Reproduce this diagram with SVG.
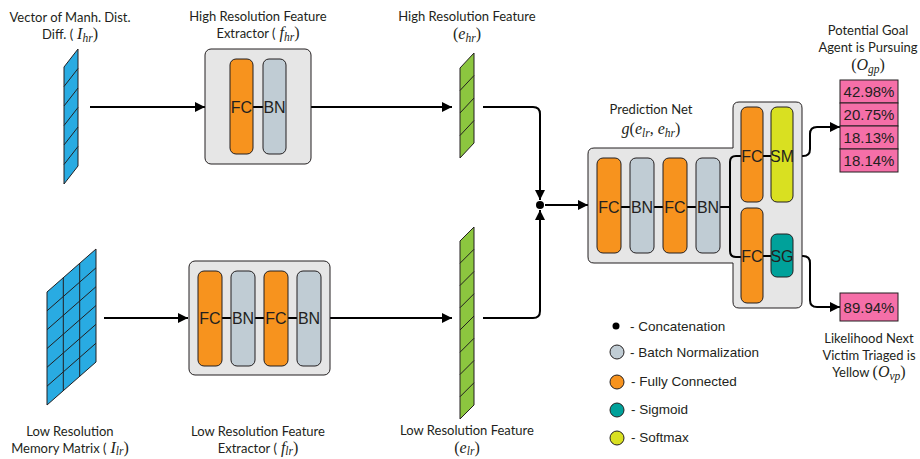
<svg xmlns="http://www.w3.org/2000/svg" width="920" height="459" viewBox="0 0 920 459">
<defs>
<marker id="arr" markerUnits="userSpaceOnUse" markerWidth="10" markerHeight="10" refX="10" refY="5" orient="auto">
<path d="M0,0 L10,5 L0,10 z" fill="#000"/>
</marker>
<style>
.lbl{font-family:Lato,"Open Sans",sans-serif;font-size:13px;fill:#231f20;text-anchor:middle}
.m{font-family:"Liberation Serif",serif;font-style:italic;font-size:16px}
.s{font-family:"Liberation Serif",serif;font-style:italic;font-size:11.5px}
.r{font-family:"Liberation Serif",serif;font-size:16px}
.box{fill:#e6e6e6;stroke:#231f20;stroke-width:1}
.fc{fill:#f7931e;stroke:#231f20;stroke-width:1}
.bn{fill:#c0ccd4;stroke:#231f20;stroke-width:1}
.sm{fill:#d9e021;stroke:#231f20;stroke-width:1}
.sg{fill:#00a19a;stroke:#231f20;stroke-width:1}
.bt{font-family:"Liberation Sans",Arial,sans-serif;font-size:16px;fill:#231f20;text-anchor:middle;dominant-baseline:central}
.blue{fill:#29abe2;stroke:#231f20;stroke-width:1}
.green{fill:#8cc63f;stroke:#231f20;stroke-width:1}
.h{stroke:#231f20;stroke-width:1;fill:none}
.c{stroke:#000;stroke-width:2;fill:none}
.a{stroke:#000;stroke-width:2;fill:none;marker-end:url(#arr)}
.pk{fill:#f56fa8;stroke:#231f20;stroke-width:1}
.pt{font-family:"Liberation Sans",Arial,sans-serif;font-size:15px;fill:#231f20;text-anchor:middle;dominant-baseline:central}
.lg{font-family:"Liberation Sans",Arial,sans-serif;font-size:13.5px;fill:#231f20;dominant-baseline:central}
</style>
</defs>
<rect width="920" height="459" fill="#fff"/>

<!-- Connectors -->
<g id="connectors">
<path class="a" d="M90,107 H205"/>
<path class="c" d="M311,107 H380"/>
<path class="a" d="M380,107 H452"/>
<path class="a" d="M104,318 H188"/>
<path class="a" d="M330,318 H452"/>
<path class="a" d="M483,107 H533 Q540,107 540,114 V200"/>
<path class="a" d="M483,318 H533 Q540,318 540,311 V210"/>
<path class="a" d="M545,205 H588"/>
<path class="a" d="M793,156 H803 Q810,156 810,149 V134 Q810,127 817,127 H840"/>
<path class="a" d="M793,256 H803 Q810,256 810,263 V300 Q810,307 817,307 H840"/>
<circle cx="540" cy="205" r="4" fill="#000"/>
</g>

<!-- Input high res vector -->
<g id="input-hr">
<polygon class="blue" points="64,67 78,49 78,166 64,184"/>
<path class="h" d="M64,86.5 L78,68.5 M64,106 L78,88 M64,125.5 L78,107.5 M64,145 L78,127 M64,164.5 L78,146.5"/>
<text class="lbl" x="70" y="22">Vector of Manh. Dist.</text>
<text class="lbl" x="70" y="39">Diff. (<tspan class="m"> I</tspan><tspan class="s" dy="3">hr</tspan><tspan class="r" dy="-3">)</tspan></text>
</g>

<!-- Input low res matrix -->
<g id="input-lr">
<polygon class="blue" points="47,292 96,249 96,362 47,405"/>
<path class="h" d="M47,310.8 L96,267.8 M47,329.7 L96,286.7 M47,348.5 L96,305.5 M47,367.3 L96,324.3 M47,386.2 L96,343.2 M63.3,277.7 V390.7 M79.7,263.3 V376.3"/>
<text class="lbl" x="70" y="436">Low Resolution</text>
<text class="lbl" x="70" y="453">Memory Matrix (<tspan class="m"> I</tspan><tspan class="s" dy="2">lr</tspan><tspan class="r" dy="-2">)</tspan></text>
</g>

<!-- High res feature extractor -->
<g id="extractor-hr">
<rect class="box" x="205" y="49" width="106" height="115" rx="6"/>
<path class="c" d="M253,107 H263" stroke-width="1.5"/>
<rect class="fc" x="230" y="59" width="23" height="95" rx="6"/>
<rect class="bn" x="263" y="59" width="23" height="95" rx="6"/>
<text class="bt" x="241.5" y="107">FC</text>
<text class="bt" x="274.5" y="107">BN</text>
<text class="lbl" x="258" y="21">High Resolution Feature</text>
<text class="lbl" x="258" y="38">Extractor (<tspan class="m"> f</tspan><tspan class="s" dy="3">hr</tspan><tspan class="r" dy="-3">)</tspan></text>
</g>

<!-- Low res feature extractor -->
<g id="extractor-lr">
<rect class="box" x="189" y="261" width="141" height="114" rx="6"/>
<path class="c" d="M222,318 H231 M255,318 H264 M288,318 H297" stroke-width="1.5"/>
<rect class="fc" x="198" y="271" width="24" height="95" rx="6"/>
<rect class="bn" x="231" y="271" width="24" height="95" rx="6"/>
<rect class="fc" x="264" y="271" width="24" height="95" rx="6"/>
<rect class="bn" x="297" y="271" width="24" height="95" rx="6"/>
<text class="bt" x="210" y="318">FC</text>
<text class="bt" x="243" y="318">BN</text>
<text class="bt" x="276" y="318">FC</text>
<text class="bt" x="309" y="318">BN</text>
<text class="lbl" x="258" y="436">Low Resolution Feature</text>
<text class="lbl" x="258" y="453">Extractor (<tspan class="m"> f</tspan><tspan class="s" dy="2">lr</tspan><tspan class="r" dy="-2">)</tspan></text>
</g>

<!-- High res feature -->
<g id="feature-hr">
<polygon class="green" points="460,68 474,53 474,143 460,158"/>
<path class="h" d="M460,90.5 L474,75.5 M460,113 L474,98 M460,135.5 L474,120.5"/>
<text class="lbl" x="467" y="21">High Resolution Feature</text>
<text class="lbl" x="467" y="39"><tspan class="r">(</tspan><tspan class="m">e</tspan><tspan class="s" dy="3">hr</tspan><tspan class="r" dy="-3">)</tspan></text>
</g>

<!-- Low res feature -->
<g id="feature-lr">
<polygon class="green" points="460,241 474,227 474,405 460,419"/>
<path class="h" d="M460,263.25 L474,249.25 M460,285.5 L474,271.5 M460,307.75 L474,293.75 M460,330 L474,316 M460,352.25 L474,338.25 M460,374.5 L474,360.5 M460,396.75 L474,382.75"/>
<text class="lbl" x="467" y="435">Low Resolution Feature</text>
<text class="lbl" x="467" y="453"><tspan class="r">(</tspan><tspan class="m">e</tspan><tspan class="s" dy="2">lr</tspan><tspan class="r" dy="-2">)</tspan></text>
</g>

<!-- Prediction net -->
<g id="prediction-net">
<path class="box" d="M594,148 H733 V108 Q733,102 739,102 H796 Q802,102 802,108 V302 Q802,308 796,308 H739 Q733,308 733,302 V263 H594 Q588,263 588,257 V154 Q588,148 594,148 Z"/>
<path class="c" stroke-width="1.5" d="M621,207 H630 M654,207 H663 M687,207 H696 M720,207 H730 M741,156 H736 Q730,156 730,162 V251 Q730,257 736,257 H741 M763,156 H771 M763,256 H771"/>
<rect class="fc" x="597" y="158" width="24" height="95" rx="6"/>
<rect class="bn" x="630" y="158" width="24" height="95" rx="6"/>
<rect class="fc" x="663" y="158" width="24" height="95" rx="6"/>
<rect class="bn" x="696" y="158" width="24" height="95" rx="6"/>
<rect class="fc" x="741" y="107" width="22" height="95" rx="6"/>
<rect class="sm" x="771" y="107" width="22" height="95" rx="6"/>
<rect class="fc" x="741" y="208" width="22" height="95" rx="6"/>
<rect class="sg" x="771" y="234" width="22" height="43" rx="6"/>
<text class="bt" x="609" y="207">FC</text>
<text class="bt" x="642" y="207">BN</text>
<text class="bt" x="675" y="207">FC</text>
<text class="bt" x="708" y="207">BN</text>
<text class="bt" x="752" y="156">FC</text>
<text class="bt" x="782" y="156">SM</text>
<text class="bt" x="752" y="256">FC</text>
<text class="bt" x="782" y="256">SG</text>
<text class="lbl" x="651" y="114">Prediction Net</text>
<text class="lbl" x="651" y="134"><tspan class="m">g</tspan><tspan class="r">(</tspan><tspan class="m">e</tspan><tspan class="s" dy="3">lr</tspan><tspan class="r" dy="-3">, </tspan><tspan class="m">e</tspan><tspan class="s" dy="3">hr</tspan><tspan class="r" dy="-3">)</tspan></text>
</g>

<!-- Output goal -->
<g id="output-goal">
<rect class="pk" x="840" y="80" width="58" height="23"/>
<rect class="pk" x="840" y="103" width="58" height="23"/>
<rect class="pk" x="840" y="126" width="58" height="23"/>
<rect class="pk" x="840" y="149" width="58" height="23"/>
<text class="pt" x="869" y="91.5">42.98%</text>
<text class="pt" x="869" y="114.5">20.75%</text>
<text class="pt" x="869" y="137.5">18.13%</text>
<text class="pt" x="869" y="160.5">18.14%</text>
<text class="lbl" x="868" y="35">Potential Goal</text>
<text class="lbl" x="868" y="52">Agent is Pursuing</text>
<text class="lbl" x="868" y="70"><tspan class="r">(</tspan><tspan class="m">O</tspan><tspan class="s" dy="3">gp</tspan><tspan class="r" dy="-3">)</tspan></text>
</g>

<!-- Output victim -->
<g id="output-victim">
<rect class="pk" x="840" y="293" width="58" height="28"/>
<text class="pt" x="869" y="307">89.94%</text>
<text class="lbl" x="869" y="343">Likelihood Next</text>
<text class="lbl" x="869" y="360">Victim Triaged is</text>
<text class="lbl" x="869" y="377">Yellow <tspan class="r">(</tspan><tspan class="m">O</tspan><tspan class="s" dy="3">vp</tspan><tspan class="r" dy="-3">)</tspan></text>
</g>

<!-- Legend -->
<g id="legend">
<circle cx="616" cy="326" r="3.5" fill="#000"/>
<text class="lg" x="630" y="326">- Concatenation</text>
<circle class="bn" cx="617" cy="352" r="7"/>
<text class="lg" x="630" y="352">- Batch Normalization</text>
<circle class="fc" cx="617" cy="382" r="7"/>
<text class="lg" x="631" y="381">- Fully Connected</text>
<circle class="sg" cx="617" cy="410" r="7"/>
<text class="lg" x="631" y="409">- Sigmoid</text>
<circle class="sm" cx="617" cy="438" r="7"/>
<text class="lg" x="631" y="437">- Softmax</text>
</g>
</svg>
